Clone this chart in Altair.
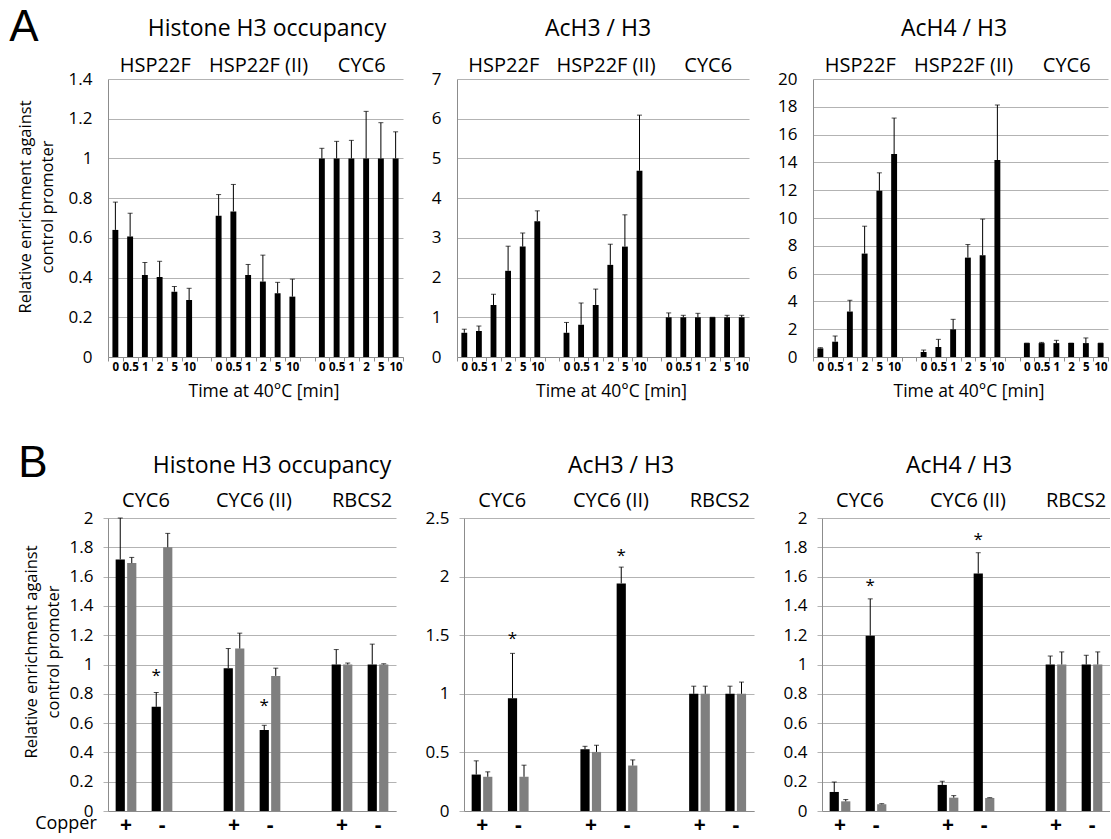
import json
import altair as alt
import pandas as pd

FONT = "Open Sans"
GRID = "#b3b3b3"
AXIS = "#8c8c8c"

# ---------------- data ----------------
time_labels = ["0", "0.5", "1", "2", "5", "10"]
top_genes = ["HSP22F", "HSP22F (II)", "CYC6"]
bottom_genes = ["CYC6", "CYC6 (II)", "RBCS2"]
copper_labels = ["+", "-"]
series_names = ["black", "gray"]
series_colors = ["#000000", "#7f7f7f"]

top_titles = ["Histone H3 occupancy", "AcH3 / H3", "AcH4 / H3"]
bottom_titles = ["Histone H3 occupancy", "AcH3 / H3", "AcH4 / H3"]

a1_yticks = [0, 0.2, 0.4, 0.6, 0.8, 1, 1.2, 1.4]
a2_yticks = [0, 1, 2, 3, 4, 5, 6, 7]
a3_yticks = [0, 2, 4, 6, 8, 10, 12, 14, 16, 18, 20]
b1_yticks = [0, 0.2, 0.4, 0.6, 0.8, 1, 1.2, 1.4, 1.6, 1.8, 2]
b2_yticks = [0, 0.5, 1, 1.5, 2, 2.5]
b3_yticks = [0, 0.2, 0.4, 0.6, 0.8, 1, 1.2, 1.4, 1.6, 1.8, 2]

# Panel A: HSP22F | HSP22F (II) | CYC6, each at 0, 0.5, 1, 2, 5, 10 min
a1_val = [0.64, 0.607, 0.413, 0.403, 0.329, 0.287,
          0.711, 0.733, 0.413, 0.38, 0.321, 0.304,
          1.0, 1.0, 1.0, 1.0, 1.0, 1.0]
a1_err = [0.14, 0.117, 0.063, 0.079, 0.026, 0.059,
          0.107, 0.136, 0.053, 0.133, 0.055, 0.088,
          0.051, 0.086, 0.091, 0.237, 0.18, 0.134]

a2_val = [0.61, 0.655, 1.31, 2.17, 2.78, 3.42,
          0.61, 0.815, 1.31, 2.32, 2.78, 4.69,
          1.0, 1.0, 1.0, 1.0, 1.0, 1.0]
a2_err = [0.09, 0.125, 0.27, 0.62, 0.34, 0.26,
          0.26, 0.545, 0.40, 0.52, 0.80, 1.40,
          0.11, 0.05, 0.10, 0.0, 0.05, 0.05]

a3_val = [0.62, 1.10, 3.27, 7.44, 11.96, 14.6,
          0.36, 0.72, 1.99, 7.15, 7.32, 14.17,
          1.0, 1.0, 1.0, 1.0, 1.0, 1.0]
a3_err = [0.05, 0.41, 0.81, 1.97, 1.29, 2.59,
          0.14, 0.55, 0.72, 0.94, 2.60, 3.96,
          0.0, 0.05, 0.2, 0.0, 0.37, 0.0]

# Panel B: CYC6 + / - | CYC6 (II) + / - | RBCS2 + / -, two series
b1_black = [1.717, 0.711, 0.975, 0.553, 1.0, 1.0]
b1_black_err = [0.283, 0.098, 0.134, 0.032, 0.102, 0.139]
b1_gray = [1.692, 1.80, 1.109, 0.922, 1.0, 1.0]
b1_gray_err = [0.039, 0.095, 0.105, 0.053, 0.01, 0.005]
b1_star = [0.92, 0.717]

b2_black = [0.311, 0.963, 0.527, 1.942, 1.0, 1.0]
b2_black_err = [0.117, 0.382, 0.025, 0.139, 0.065, 0.065]
b2_gray = [0.292, 0.292, 0.504, 0.388, 1.0, 1.0]
b2_gray_err = [0.042, 0.099, 0.057, 0.048, 0.065, 0.10]
b2_star = [1.47, 2.18]

b3_black = [0.13, 1.197, 0.178, 1.621, 1.0, 1.0]
b3_black_err = [0.068, 0.251, 0.025, 0.142, 0.058, 0.063]
b3_gray = [0.066, 0.046, 0.091, 0.089, 1.0, 1.0]
b3_gray_err = [0.012, 0.004, 0.014, 0.002, 0.086, 0.086]
b3_star = [1.535, 1.847]

Y_TITLE = ["Relative enrichment against", "control promoter"]


def y_enc(field, ymax, yticks, ticks):
    return alt.Y(
        field,
        scale=alt.Scale(domain=[0, ymax], nice=False, zero=True),
        axis=alt.Axis(
            values=yticks, format="~g", title=None, grid=True, gridColor=GRID,
            gridWidth=1, domainColor=AXIS, ticks=ticks, tickSize=5, tickColor=GRID,
            labelPadding=10 if ticks else 16, labelFontSize=17, labelColor="#000",
        ),
    )


def top_panel(title, vals, errs, yticks, width, title_dx, left=False, letter=None):
    height = 278
    ymax = yticks[-1]
    cats = [g * 7 + i for g in range(3) for i in range(6)]
    df = pd.DataFrame({"cat": cats, "val": vals,
                       "hi": [v + e for v, e in zip(vals, errs)]})
    lab = []
    for g in range(3):
        lab += time_labels
        if g < 2:
            lab.append("")
    xs = alt.Scale(type="band", domain=list(range(20)), paddingInner=0, paddingOuter=0)
    xaxis = alt.Axis(
        title="Time at 40°C [min]", labelExpr=json.dumps(lab) + "[datum.value]",
        labelAngle=0, tickBand="extent", tickSize=4, tickColor=AXIS, domainColor=AXIS,
        labelFontSize=11.5, labelFontWeight="bold", labelColor="#000", labelPadding=0,
        titleFontSize=17.5, titleFontWeight="normal", titlePadding=10, titleX=width / 2 + 8,
        grid=False,
    )
    X = alt.X("cat:O", scale=xs, axis=xaxis)
    base = alt.Chart(df)
    bars = base.mark_bar(color="black", width=alt.RelativeBandSize(0.4)).encode(
        x=X, y=y_enc("val:Q", ymax, yticks, False))
    rule = base.mark_rule(color="black", strokeWidth=1).encode(
        x=X, y=y_enc("val:Q", ymax, yticks, False), y2="hi:Q")
    cap = base.mark_tick(color="black", thickness=1, size=5).encode(
        x=X, y=y_enc("hi:Q", ymax, yticks, False))
    gdf = pd.DataFrame({"cat": [3, 10, 17], "label": top_genes})
    glab = alt.Chart(gdf).mark_text(fontSize=20, baseline="middle", dx=3).encode(
        x=alt.X("cat:O", scale=xs, axis=xaxis, bandPosition=0),
        y=alt.value(-13), text="label:N")
    ttl = alt.Chart(pd.DataFrame({"t": [title]})).mark_text(
        fontSize=23, baseline="middle").encode(
        x=alt.value(title_dx), y=alt.value(-50), text="t:N")
    layers = [bars, rule, cap, glab, ttl]
    if left:
        yt = alt.Chart(pd.DataFrame({"t": [0]})).mark_text(
            text=Y_TITLE, angle=270, fontSize=16.5, lineHeight=22, baseline="middle").encode(
            x=alt.value(-82), y=alt.value(128))
        layers.append(yt)
    if letter:
        lt = alt.Chart(pd.DataFrame({"t": [letter]})).mark_text(
            font="Liberation Sans", fontSize=44, baseline="middle").encode(
            x=alt.value(-84), y=alt.value(-51), text="t:N")
        layers.append(lt)
    return alt.layer(*layers).properties(width=width, height=height)


def bottom_panel(title, blk, blk_err, gry, gry_err, stars, yticks, width, title_dx,
                 left=False, letter=None):
    height = 293
    ymax = yticks[-1]
    cats = [0, 1, 3, 4, 6, 7]
    rows = []
    for s, v, e in ((series_names[0], blk, blk_err), (series_names[1], gry, gry_err)):
        for c, vv, ee in zip(cats, v, e):
            rows.append({"cat": c, "series": s, "val": vv, "hi": vv + ee})
    df = pd.DataFrame(rows)
    lab = []
    for g in range(3):
        lab += copper_labels
        if g < 2:
            lab.append("")
    xs = alt.Scale(type="band", domain=list(range(8)), paddingInner=0, paddingOuter=0)
    xaxis = alt.Axis(
        title=None, labelExpr=json.dumps(lab) + "[datum.value]", labelAngle=0,
        ticks=False, domainColor=AXIS, labelFontSize=21, labelFontWeight="bold",
        labelColor="#000", labelPadding=3, grid=False,
    )
    X = alt.X("cat:O", scale=xs, axis=xaxis)
    XO = alt.XOffset("series:N", scale=alt.Scale(domain=series_names, paddingInner=0.2,
                                                  paddingOuter=0.665))
    C = alt.Color("series:N", scale=alt.Scale(domain=series_names, range=series_colors),
                  legend=None)
    base = alt.Chart(df)
    bars = base.mark_bar().encode(x=X, xOffset=XO, color=C,
                                  y=y_enc("val:Q", ymax, yticks, True))
    rule = base.mark_rule(color="black", strokeWidth=1).encode(
        x=X, xOffset=XO, y=y_enc("val:Q", ymax, yticks, True), y2="hi:Q")
    cap = base.mark_tick(color="black", thickness=1, size=5).encode(
        x=X, xOffset=XO, y=y_enc("hi:Q", ymax, yticks, True))
    sdf = pd.DataFrame({"cat": [1, 4], "series": [series_names[0]] * 2, "hi": stars,
                        "t": ["*", "*"]})
    star = alt.Chart(sdf).mark_text(fontSize=17, baseline="middle").encode(
        x=X, xOffset=XO, y=y_enc("hi:Q", ymax, yticks, True), text="t:N")
    gdf = pd.DataFrame({"cat": [1, 4, 7], "label": bottom_genes})
    glab = alt.Chart(gdf).mark_text(fontSize=20, baseline="middle", dx=2).encode(
        x=alt.X("cat:O", scale=xs, axis=xaxis, bandPosition=0),
        y=alt.value(-17), text="label:N")
    ttl = alt.Chart(pd.DataFrame({"t": [title]})).mark_text(
        fontSize=23, baseline="middle").encode(
        x=alt.value(title_dx), y=alt.value(-52), text="t:N")
    layers = [bars, rule, cap, star, glab, ttl]
    if left:
        yt = alt.Chart(pd.DataFrame({"t": [0]})).mark_text(
            text=Y_TITLE, angle=270, fontSize=16.5, lineHeight=22, baseline="middle").encode(
            x=alt.value(-76), y=alt.value(134))
        cp = alt.Chart(pd.DataFrame({"t": ["Copper"]})).mark_text(
            fontSize=18, baseline="middle").encode(
            x=alt.value(-42), y=alt.value(height + 13), text="t:N")
        layers += [yt, cp]
    if letter:
        lt = alt.Chart(pd.DataFrame({"t": [letter]})).mark_text(
            font="Liberation Sans", fontSize=44, baseline="middle").encode(
            x=alt.value(-75), y=alt.value(-54), text="t:N")
        layers.append(lt)
    return alt.layer(*layers).properties(width=width, height=height)


A1 = top_panel(top_titles[0], a1_val, a1_err, a1_yticks, 295, 159, left=True, letter="A")
A2 = top_panel(top_titles[1], a2_val, a2_err, a2_yticks, 292, 141)
A3 = top_panel(top_titles[2], a3_val, a3_err, a3_yticks, 295, 141)

B1 = bottom_panel(bottom_titles[0], b1_black, b1_black_err, b1_gray, b1_gray_err, b1_star,
                  b1_yticks, 288, 164, left=True, letter="B")
B2 = bottom_panel(bottom_titles[1], b2_black, b2_black_err, b2_gray, b2_gray_err, b2_star,
                  b2_yticks, 290, 157)
B3 = bottom_panel(bottom_titles[2], b3_black, b3_black_err, b3_gray, b3_gray_err, b3_star,
                  b3_yticks, 288, 137)

top = alt.hconcat(A1, A2, A3, spacing=27)
bottom = alt.hconcat(B1, B2, B3, spacing=29)

chart = (
    alt.vconcat(top, bottom, spacing=42)
    .properties(padding={"left": 9, "top": 6, "right": 0, "bottom": 0})
    .configure(font=FONT)
    .configure_view(stroke=None)
    .configure_text(color="#000")
)

chart.save("out.html", embed_options={"renderer": "svg", "actions": False})
